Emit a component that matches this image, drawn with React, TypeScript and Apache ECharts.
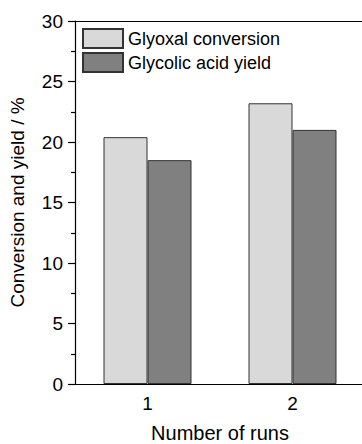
import React, { useEffect, useRef } from "react";
import * as echarts from "echarts";

const categories = ["1", "2"];
const glyoxalConversion = [20.4, 23.2];
const glycolicAcidYield = [18.5, 21.0];
const seriesNames = ["Glyoxal conversion", "Glycolic acid yield"];

const FONT = "Liberation Sans, Arial, Helvetica, sans-serif";

export default function App() {
  const ref = useRef<HTMLDivElement>(null);
  useEffect(() => {
    if (!ref.current) return;
    const chart = echarts.init(ref.current, undefined, { renderer: "svg" });
    chart.setOption({
      animation: false,
      backgroundColor: "#ffffff",
      grid: { left: 75, right: -3, top: 21, bottom: 60, containLabel: false, outerBoundsMode: "none" },
      legend: {
        orient: "vertical",
        left: 77,
        top: 23,
        itemWidth: 40,
        itemHeight: 19,
        itemGap: 3,
        icon: "rect",
        textStyle: { fontFamily: FONT, fontSize: 18, color: "#000" },
        data: seriesNames,
      },
      xAxis: [
        {
          type: "category",
          data: categories,
          name: "Number of runs",
          nameLocation: "middle",
          nameGap: 39,
          nameTextStyle: { fontFamily: FONT, fontSize: 20, lineHeight: 20, color: "#000" },
          axisLine: { show: true, lineStyle: { color: "#000", width: 1.2 } },
          axisTick: { show: false },
          axisLabel: { fontFamily: FONT, fontSize: 19, color: "#000", margin: 10 },
        },
        {
          type: "category",
          data: categories,
          position: "top",
          axisLine: { show: true, lineStyle: { color: "#000", width: 1.2 } },
          axisTick: { show: false },
          axisLabel: { show: false },
        },
      ],
      yAxis: {
        type: "value",
        min: 0,
        max: 30,
        interval: 5,
        name: "Conversion and yield / %",
        nameLocation: "middle",
        nameGap: 48,
        nameTextStyle: { fontFamily: FONT, fontSize: 19, color: "#000" },
        axisLine: { show: true, lineStyle: { color: "#000", width: 1.2 } },
        axisTick: { show: true, length: 7, lineStyle: { color: "#000", width: 1.2 } },
        minorTick: { show: true, splitNumber: 2, length: 4, lineStyle: { color: "#000", width: 1.2 } },
        splitLine: { show: false },
        axisLabel: { fontFamily: FONT, fontSize: 19, color: "#000", margin: 12 },
      },
      series: [
        {
          name: seriesNames[0],
          type: "bar",
          data: glyoxalConversion,
          barWidth: 44,
          barGap: "0%",
          itemStyle: { color: "#d9d9d9", borderColor: "#333333", borderWidth: 1 },
        },
        {
          name: seriesNames[1],
          type: "bar",
          data: glycolicAcidYield,
          barWidth: 44,
          barGap: "0%",
          itemStyle: { color: "#808080", borderColor: "#333333", borderWidth: 1 },
        },
      ],
    });
    return () => chart.dispose();
  }, []);
  return (
    <div
      ref={ref}
      style={{ position: "fixed", left: 0, top: 0, width: 362, height: 444 }}
    />
  );
}
